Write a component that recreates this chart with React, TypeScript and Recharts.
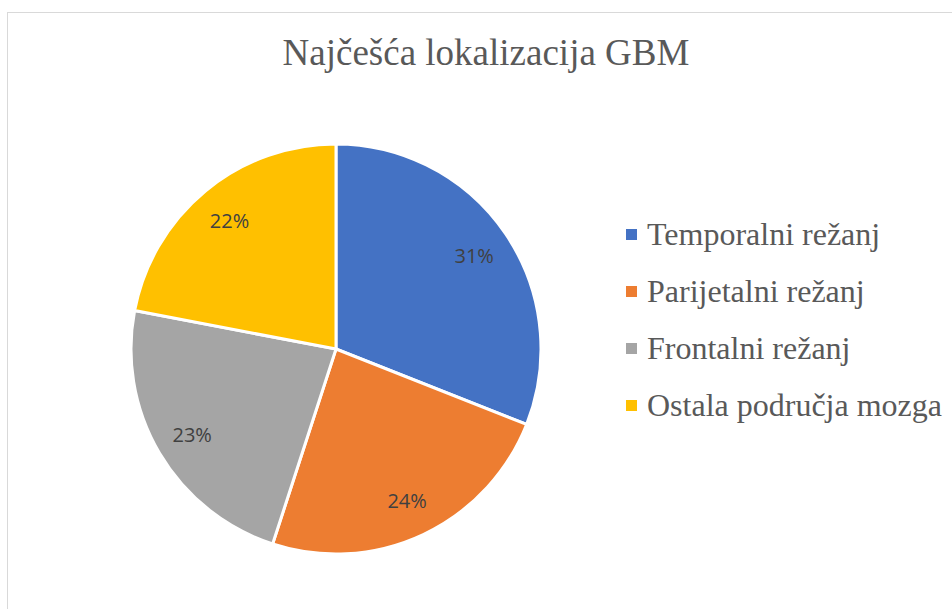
import * as React from 'react';
import { Cell, Legend, Pie, PieChart } from 'recharts';

const categories = ['Temporalni režanj', 'Parijetalni režanj', 'Frontalni režanj', 'Ostala područja mozga'];
const shares = [31, 24, 23, 22];
const colors = ['#4472c4', '#ed7d31', '#a5a5a5', '#ffc000'];

const data = categories.map((name, i) => ({ name, value: shares[i] }));

const SERIF = "'Liberation Serif', 'DejaVu Serif', serif";
const RAD = Math.PI / 180;

function renderLabel(props: any) {
  const { cx, cy, midAngle, outerRadius, value } = props;
  const r = outerRadius * 0.815;
  const x = cx + r * Math.cos(-midAngle * RAD);
  const y = cy + r * Math.sin(-midAngle * RAD);
  return (
    <text
      x={x}
      y={y}
      textAnchor="middle"
      dominantBaseline="central"
      fill="#404040"
      fontSize={20}
      fontFamily="'Open Sans', sans-serif"
    >
      {`${value}%`}
    </text>
  );
}

function LegendList(props: any) {
  const items = [...(props.payload ?? [])].sort(
    (a: any, b: any) => categories.indexOf(a.value) - categories.indexOf(b.value),
  );
  return (
    <div style={{ fontFamily: SERIF }}>
      {items.map((it: any) => (
        <div key={it.value} style={{ display: 'flex', alignItems: 'center', height: 57 }}>
          <span style={{ width: 11, height: 11, background: it.color, marginRight: 10, flex: 'none' }} />
          <span style={{ fontSize: 32, color: '#595959', whiteSpace: 'nowrap' }}>{it.value}</span>
        </div>
      ))}
    </div>
  );
}

export default function App() {
  return (
    <div style={{ position: 'absolute', left: 0, top: 0, width: 952, height: 609, overflow: 'hidden', background: '#fff' }}>
      <div
        style={{
          position: 'absolute',
          left: 7,
          top: 12,
          width: 1000,
          height: 700,
          border: '1px solid #d9d9d9',
        }}
      />
      <div
        style={{
          position: 'absolute',
          left: 0,
          top: 29,
          width: 972,
          textAlign: 'center',
          fontFamily: SERIF,
          fontSize: 37,
          color: '#595959',
          lineHeight: '48px',
        }}
      >
        Najčešća lokalizacija GBM
      </div>
      <PieChart
        width={952}
        height={609}
        margin={{ top: 0, right: 0, bottom: 0, left: 0 }}
        style={{ position: 'absolute', left: 0, top: 0 }}
      >
        <Pie
          data={data}
          dataKey="value"
          nameKey="name"
          cx={336}
          cy={349}
          outerRadius={205}
          startAngle={90}
          endAngle={-270}
          stroke="#ffffff"
          strokeWidth={3}
          label={renderLabel}
          labelLine={false}
          isAnimationActive={false}
        >
          {data.map((d, i) => (
            <Cell key={d.name} fill={colors[i]} />
          ))}
        </Pie>
        <Legend
          layout="vertical"
          content={<LegendList />}
          wrapperStyle={{ position: 'absolute', left: 626, top: 206, width: 330 }}
        />
      </PieChart>
    </div>
  );
}
